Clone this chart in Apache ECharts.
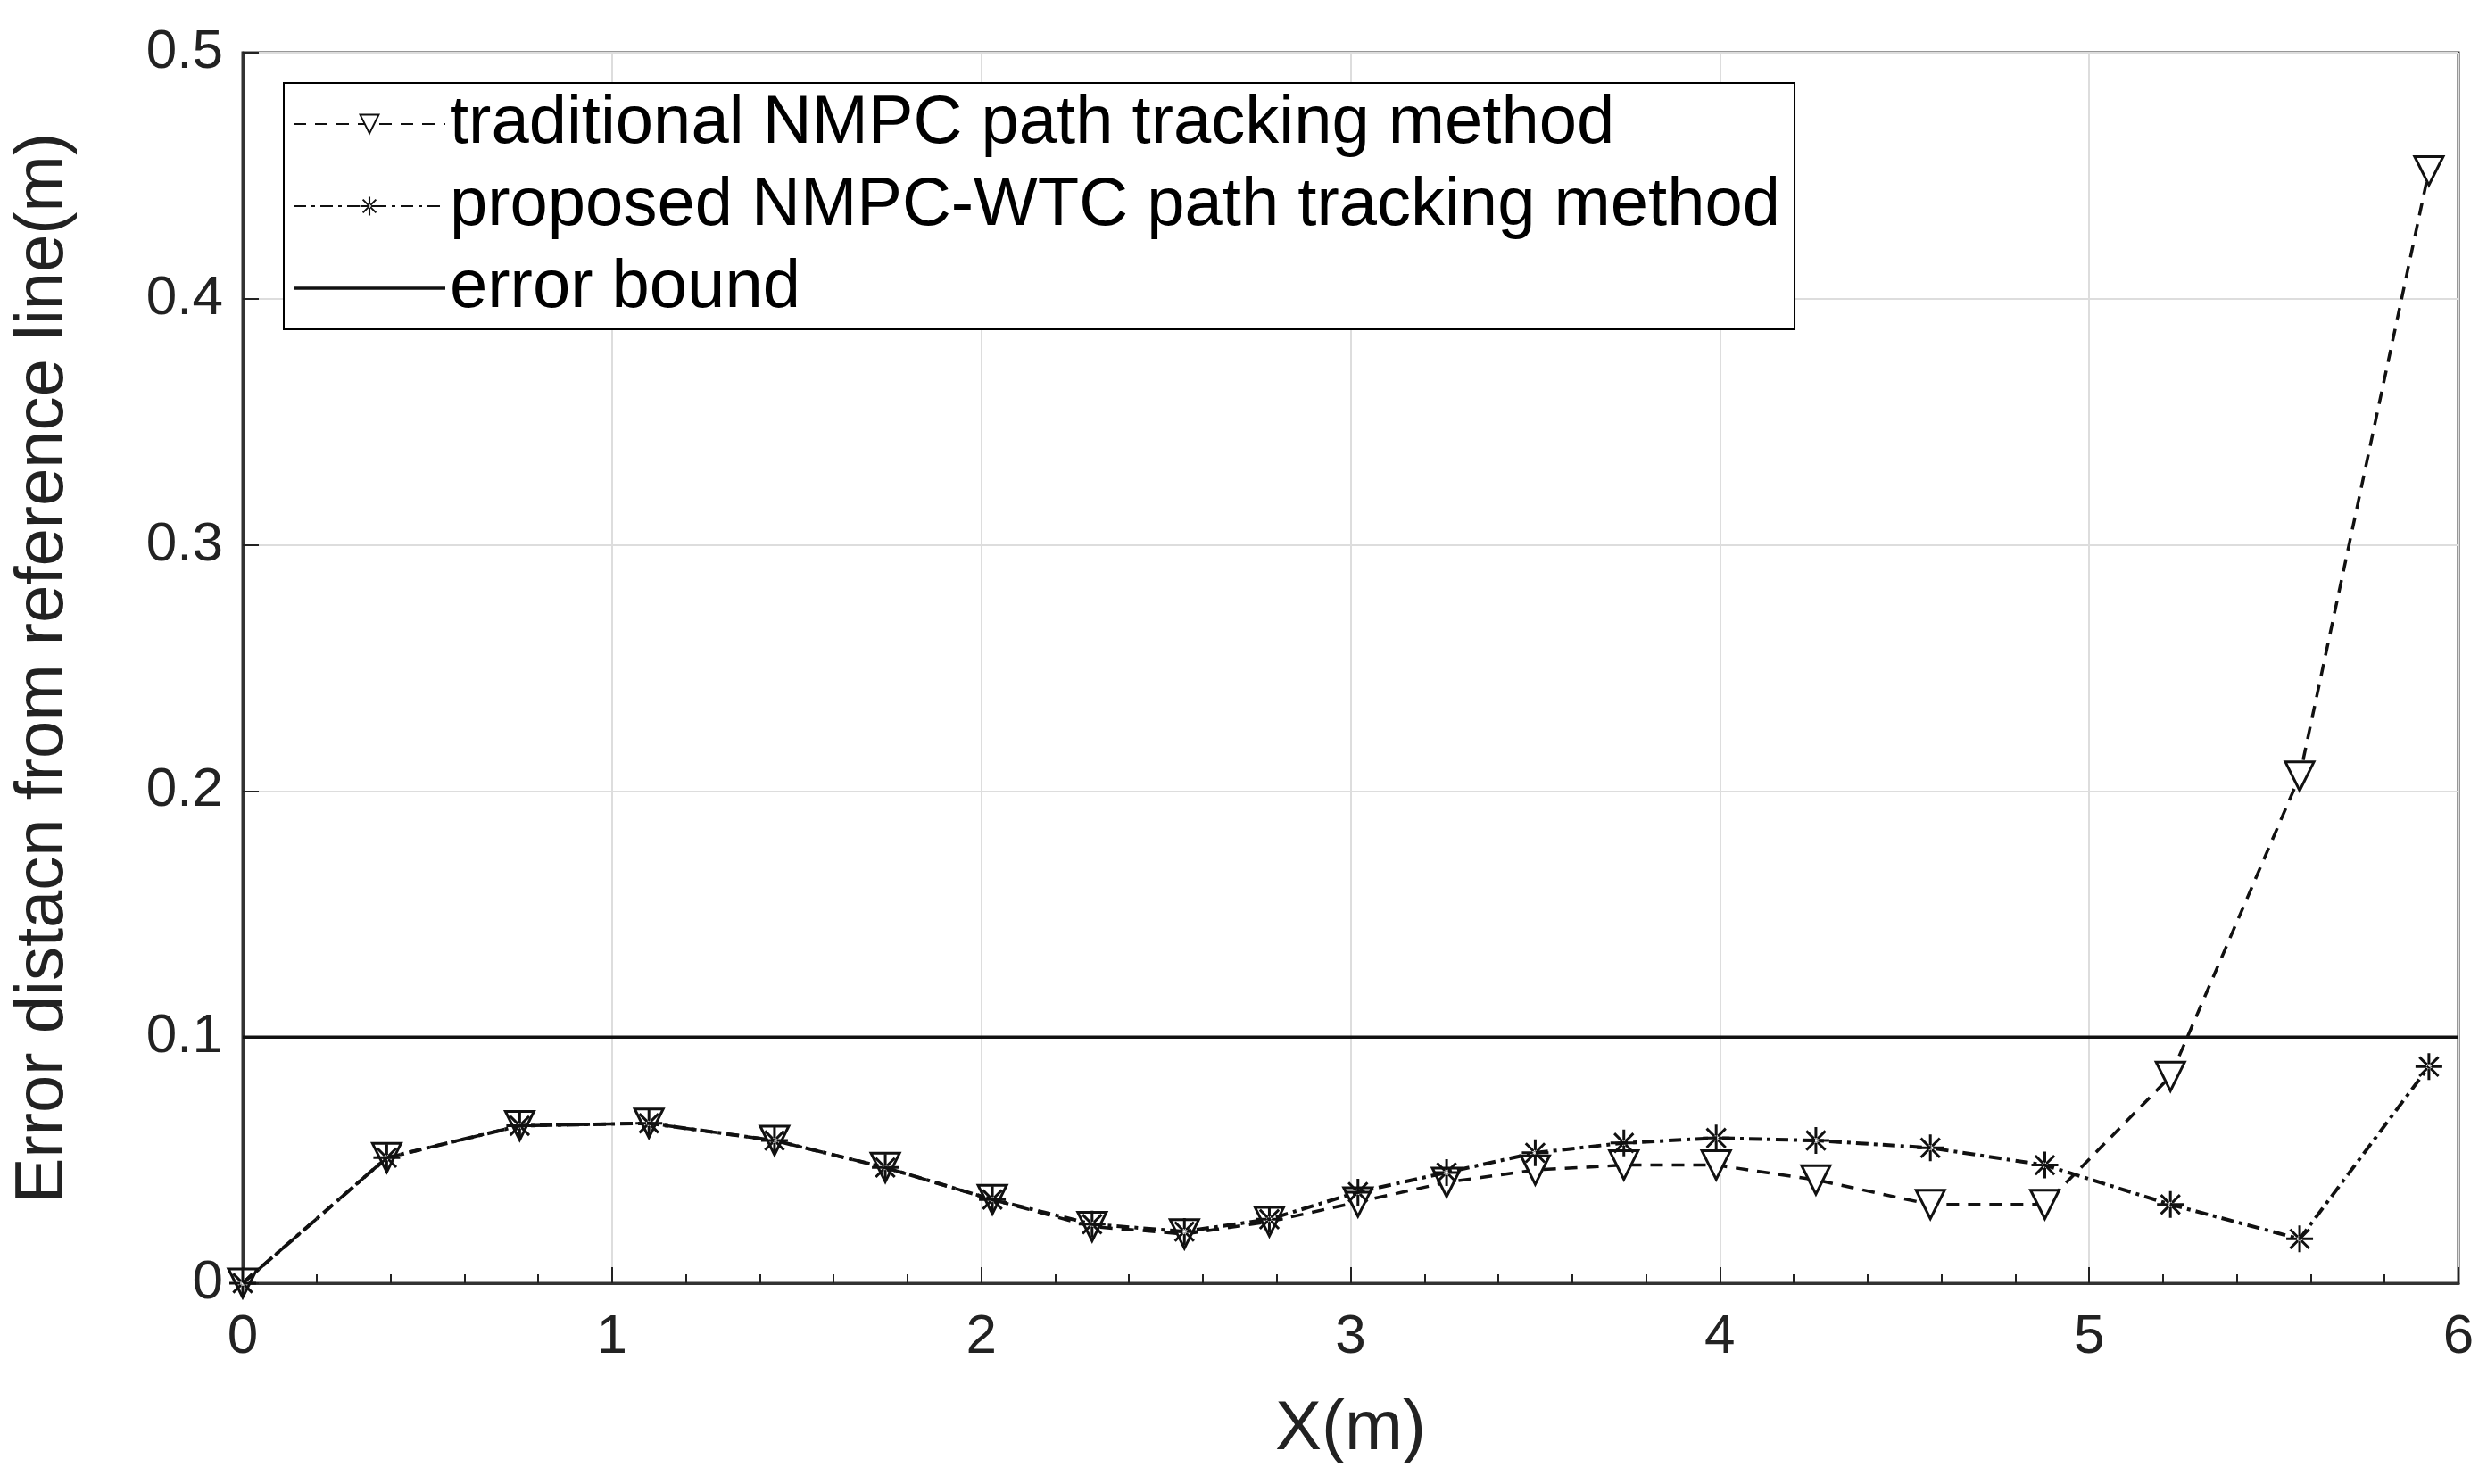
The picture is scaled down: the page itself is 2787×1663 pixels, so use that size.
<!DOCTYPE html><html><head><meta charset="utf-8">
<script src="https://cdn.jsdelivr.net/npm/echarts@6/dist/echarts.min.js"></script>
<style>html,body{margin:0;background:#fff}#c{width:2787px;height:1663px}</style></head><body><div id="c"></div>
<script>
const xs = [0,0.39,0.75,1.1,1.44,1.74,2.03,2.3,2.55,2.78,3.02,3.26,3.5,3.74,3.99,4.26,4.57,4.88,5.22,5.57,5.92];
const traditional = [0,0.051,0.064,0.065,0.058,0.047,0.034,0.023,0.020,0.025,0.033,0.041,0.046,0.048,0.048,0.042,0.032,0.032,0.084,0.206,0.452];
const proposed = [0,0.051,0.064,0.065,0.058,0.047,0.034,0.024,0.021,0.026,0.037,0.045,0.053,0.057,0.059,0.058,0.055,0.048,0.032,0.018,0.088];
const boundX = [0,6];
const boundY = [0.1,0.1];
const names = ['traditional NMPC path tracking method','proposed NMPC-WTC path tracking method','error bound'];
const star = 'path://M-1,-0.1L1,-0.1L1,0.1L-1,0.1Z M-0.1,-1L0.1,-1L0.1,1L-0.1,1Z M-0.78,-0.64L0.64,0.78L0.78,0.64L-0.64,-0.78Z M0.64,-0.78L-0.78,0.64L-0.64,0.78L0.78,-0.64Z';
const F = '"Liberation Sans", Arial, sans-serif';
const ch = echarts.init(document.getElementById('c'));
ch.setOption({
  animation:false,
  grid:{left:272,right:32,top:59,bottom:225,show:true,borderColor:'#333',borderWidth:3,backgroundColor:'#fff'},
  legend:{left:318,top:93,orient:'vertical',backgroundColor:'#fff',borderColor:'#000',borderWidth:2,padding:[8,16,8,10],
    itemWidth:170,itemHeight:26,itemGap:16,textStyle:{fontFamily:F,fontSize:76,color:'#000'},
    data:[{name:names[0]},{name:names[1]},{name:names[2],icon:'path://M0,0L100,0L100,2L0,2Z'}]},
  xAxis:{type:'value',min:0,max:6,interval:1,name:'X(m)',nameLocation:'middle',nameGap:125,
    nameTextStyle:{fontFamily:F,fontSize:78,color:'#222'},
    axisLine:{lineStyle:{color:'#333',width:3}},axisTick:{inside:true,length:18,lineStyle:{color:'#222',width:2}},
    minorTick:{show:true,splitNumber:5,length:10,lineStyle:{color:'#222',width:2}},
    axisLabel:{fontFamily:F,fontSize:62,color:'#222',margin:30},splitLine:{lineStyle:{color:'#ddd',width:2}}},
  yAxis:{type:'value',min:0,max:0.5,interval:0.1,name:'Error distacn from reference line(m)',nameLocation:'middle',nameGap:185,
    nameTextStyle:{fontFamily:F,fontSize:76,color:'#222'},
    axisLine:{lineStyle:{color:'#333',width:3}},axisTick:{inside:true,length:18,lineStyle:{color:'#222',width:2}},
    axisLabel:{fontFamily:F,fontSize:62,color:'#222',margin:22,formatter:v=>String(+v.toFixed(1))},splitLine:{lineStyle:{color:'#ddd',width:2}}},
  series:[
    {name:names[0],type:'line',data:xs.map((x,i)=>[x,traditional[i]]),symbol:'triangle',symbolRotate:180,symbolSize:32,z:3,
     itemStyle:{color:'#fff',borderColor:'#111',borderWidth:3},lineStyle:{color:'#111',width:3.5,type:[14,10]}},
    {name:names[1],type:'line',data:xs.map((x,i)=>[x,proposed[i]]),symbol:star,symbolSize:30,z:4,
     itemStyle:{color:'#111',borderColor:'#111',borderWidth:0},lineStyle:{color:'#111',width:4,type:[14,6,4,6]}},
    {name:names[2],type:'line',data:boundX.map((x,i)=>[x,boundY[i]]),symbol:'none',z:2,
     itemStyle:{color:'#111'},lineStyle:{color:'#111',width:3.5}}
  ]
});
</script></body></html>
